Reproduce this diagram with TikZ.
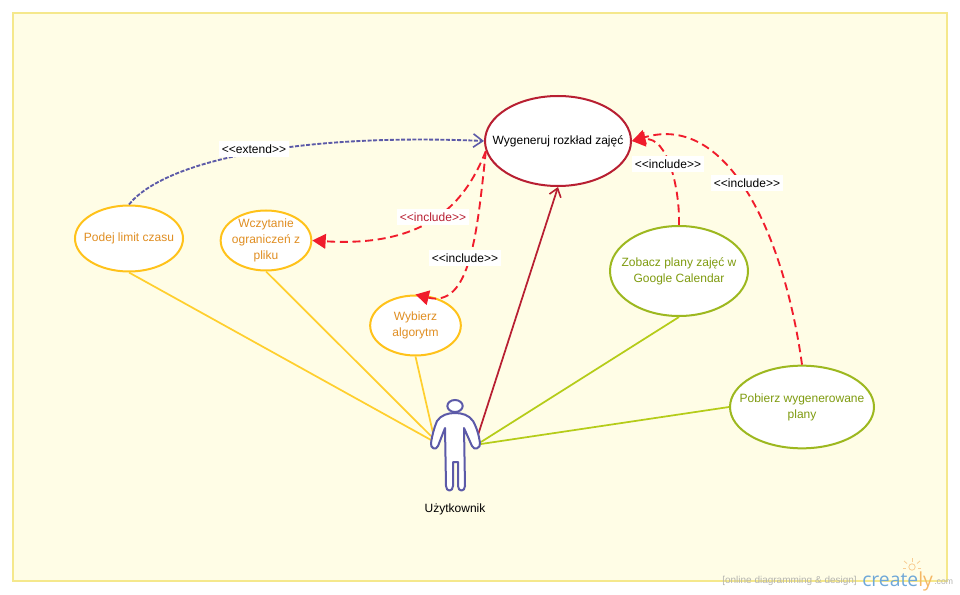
\documentclass[tikz,border=0pt]{standalone}
\usepackage{fontspec}
\setmainfont{Liberation Sans}
\newfontfamily\logofont{Open Sans}
\usetikzlibrary{shapes.geometric,arrows.meta}
\definecolor{paper}{HTML}{FFFDE6}
\definecolor{framec}{HTML}{F5E88C}
\definecolor{amber}{HTML}{FFC21A}
\definecolor{amberline}{HTML}{FFCF2E}
\definecolor{ambertext}{HTML}{E08E22}
\definecolor{olive}{HTML}{9DB81F}
\definecolor{oliveline}{HTML}{B5CC18}
\definecolor{olivetext}{HTML}{7F9B0F}
\definecolor{crimson}{HTML}{B81F32}
\definecolor{redarrow}{HTML}{F01C2C}
\definecolor{violet}{HTML}{5C5AA8}
\definecolor{logoblue}{HTML}{6FA8D8}
\definecolor{logoorange}{HTML}{F5B865}
\definecolor{wmgrey}{HTML}{B5B5B0}
\tikzset{
  txt/.style={font=\fontsize{9}{12}\selectfont,align=center,inner sep=0pt},
  usecase/.style={ellipse,draw,fill=white,line width=1.5pt,inner sep=0pt},
  amberuc/.style={usecase,draw=amber,label={[txt,text=ambertext]center:{#1}}},
  oliveuc/.style={usecase,draw=olive,label={[txt,text=olivetext]center:{#1}}},
  reduc/.style={usecase,draw=crimson,label={[txt,text=black]center:{#1}}},
  assoc/.style={line width=1.3pt},
  incl/.style={draw=redarrow,line width=1.4pt,dash pattern=on 6pt off 3.5pt,
     -{Triangle[length=10pt,width=11pt,fill=redarrow]}},
  ext/.style={draw=violet,line width=1.4pt,dash pattern=on 3pt off 1.2pt,
     -{Straight Barb[length=7pt,width=10pt,line width=1.2pt]}},
  tag/.style={txt,fill=white,inner xsep=2pt,inner ysep=2.5pt},
  person/.style={draw=violet,fill=white,line width=1.5pt,line join=round},
  wm/.style={text=wmgrey,font=\fontsize{7.5}{8}\selectfont,inner sep=0pt,anchor=base west},
  ray/.style={draw=logoorange!70,line width=.6pt}
}
\begin{document}
\begin{tikzpicture}[x=0.75pt,y=-0.75pt]
\useasboundingbox (0,0) rectangle (960,595);
\draw[fill=paper,draw=framec,line width=1.5pt] (13,13) rectangle (947,581);

% actor anchors
\coordinate (handL) at (431,440);
\coordinate (handLb) at (431,436);
\coordinate (handLc) at (433,433);
\coordinate (armR) at (478,435);
\coordinate (handR) at (481,442);
\coordinate (handRb) at (481,444);

\node[reduc={Wygeneruj rozkład zajęć},minimum width=109.5pt,minimum height=67.5pt] (main) at (558,141) {};
\node[amberuc={Podej limit czasu},minimum width=81pt,minimum height=49.5pt] (limit) at (129,238.5) {};
\node[amberuc={Wczytanie\\ograniczeń z\\pliku},minimum width=68pt,minimum height=45pt] (file) at (266,240.5) {};
\node[amberuc={Wybierz\\algorytm},minimum width=68pt,minimum height=45pt] (algo) at (415.5,325.5) {};
\node[oliveuc={Zobacz plany zajęć w\\Google Calendar},minimum width=103.5pt,minimum height=67.5pt] (cal) at (679,271) {};
\node[oliveuc={Pobierz wygenerowane\\plany},minimum width=108pt,minimum height=62pt] (get) at (802,407) {};

% associations
\draw[assoc,draw=amberline] (limit.south) -- (handL);
\draw[assoc,draw=amberline] (file.south) -- (handLb);
\draw[assoc,draw=amberline] (algo.south) -- (handLc);
\draw[assoc,draw=crimson,-{Straight Barb[length=6pt,width=9pt,line width=1.2pt]}] (armR) -- (main.south);
\draw[assoc,draw=oliveline] (cal.south) -- (handR);
\draw[assoc,draw=oliveline] (get.west) -- (handRb);

% dependencies
\draw[ext] (limit.north) .. controls (165,160) and (300,133) .. (main.west);
\draw[incl] (main.188) .. controls (468,195) and (435,248) .. (file.east);
\draw[incl] (main.188) .. controls (477,235) and (470,308) .. (algo.north);
\draw[incl] (cal.north) .. controls (680,190) and (668,136) .. (main.east);
\draw[incl] (get.north) .. controls (785,240) and (730,112) .. (main.east);

% labels
\node[tag] (lext) at (254,149) {<{}<extend>{}>};
\node[tag,text=crimson] (linc1) at (433,217) {<{}<include>{}>};
\node[tag] (linc2) at (465,258) {<{}<include>{}>};
\node[tag] (linc3) at (668,164) {<{}<include>{}>};
\node[tag] (linc4) at (747,183) {<{}<include>{}>};

% actor
\draw[person] (455,413) .. controls (448,413) and (441,415) .. (437,421)
  .. controls (434,428) and (432,436) .. (431,443)
  .. controls (430,448) and (436,451) .. (438,446)
  -- (445,428) -- (446,486)
  .. controls (446,492) and (453,492) .. (453,486)
  -- (453,462) -- (458,462) -- (458,486)
  .. controls (458,492) and (465,492) .. (465,486)
  -- (464,428) -- (472,446)
  .. controls (474,451) and (481,448) .. (480,443)
  .. controls (479,436) and (477,428) .. (473,421)
  .. controls (469,415) and (462,413) .. (455,413) -- cycle;
\node[draw=violet,fill=white,line width=1.5pt,ellipse,minimum width=11.5pt,minimum height=9pt,inner sep=0pt] (head) at (455,406) {};
\node[txt] (actorname) at (455,509.5) {Użytkownik};

% watermark
\node[wm] (wmtext) at (722,583) {[online diagramming \& design]};
\node[text=logoblue,font=\logofont\fontsize{14.5}{16}\selectfont,inner sep=0pt,anchor=base west] (logo) at (862,586) {create\textcolor{logoorange}{ly}};
\node[wm,anchor=base west,font=\fontsize{6.5}{8}\selectfont] (wmcom) at (934,584) {.com};
\draw[ray] (912,567) circle (3.2);
\draw[ray] (912,558) -- (912,561.5);
\draw[ray] (904,561) -- (907,563.5);
\draw[ray] (920,561) -- (917,563.5);
\draw[ray] (903,568) -- (906,568);
\draw[ray] (921,568) -- (918,568);
\end{tikzpicture}
\end{document}
